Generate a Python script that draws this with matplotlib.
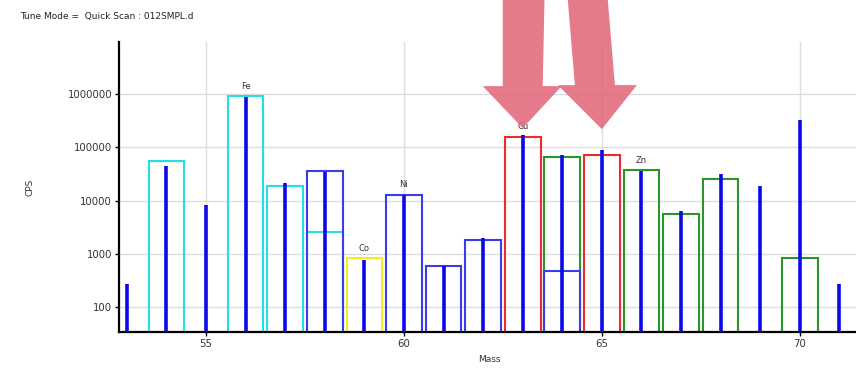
import matplotlib.pyplot as plt
import numpy as np
from matplotlib.patches import Polygon
from matplotlib.transforms import IdentityTransform

# stick spectrum (measured CPS per mass)
masses = list(range(53, 72))
cps = [270, 45000, 8400, 900000, 21000, 35000, 770, 13000, 600, 2000,
       170000, 71000, 88000, 36000, 6500, 32000, 19000, 320000, 270]

# outlined boxes (expected isotope pattern), drawn in this order
box_mass = [54, 56, 57, 58, 58, 59, 60, 61, 62, 63, 64, 64, 65, 66, 67, 68, 70]
box_top = [56000, 920000, 19000, 2600, 36000, 830, 13000, 600, 1800,
           160000, 65000, 480, 73000, 38000, 5700, 25000, 830]
box_color = ['#22e0e6', '#22e0e6', '#22e0e6', '#22e0e6', '#3a3aef', '#f2ee1e',
             '#3a3aef', '#3a3aef', '#3a3aef', '#ee2a2a', '#2a962a', '#3a3aef',
             '#ee2a2a', '#2a962a', '#2a962a', '#2a962a', '#2a962a']

# element labels
label_mass = [56, 59, 60, 63, 66]
label_text = ['Fe', 'Co', 'Ni', 'Cu', 'Zn']
label_top = [920000, 830, 13000, 160000, 38000]

arrow_tips = [(63, 230000), (65, 220000)]

fig = plt.figure(figsize=(8.56, 3.69), dpi=100)
ax = fig.add_axes([0.139, 0.1, 0.861, 0.786])
ax.set_yscale('log')
ax.set_xlim(52.8, 71.42)
ax.set_ylim(34, 9.5e6)

ax.grid(True, color='#dddddd', lw=1.0)
ax.set_axisbelow(True)
ax.set_xticks([55, 60, 65, 70])
ax.set_yticks([100, 1000, 10000, 100000, 1000000])
ax.set_yticklabels(['100', '1000', '10000', '100000', '1000000'])
ax.minorticks_off()
ax.tick_params(labelsize=7.3, length=3, width=1, colors='black', pad=2)
for lab in ax.get_xticklabels() + ax.get_yticklabels():
    lab.set_color('#333333')

for s in ['top', 'right']:
    ax.spines[s].set_visible(False)
for s in ['left', 'bottom']:
    ax.spines[s].set_linewidth(1.6)

for m, t, c in zip(box_mass, box_top, box_color):
    ax.bar(m, t - 1, bottom=1, width=0.9, fill=False, edgecolor=c, lw=1.5, zorder=2)

ax.vlines(masses, 1, cps, color='#0a0ae8', lw=2.6, zorder=3)

for m, t, lab in zip(label_mass, label_text, label_top):
    ax.text(m, lab * 1.25, t, ha='center', va='bottom', fontsize=6, color='#333333')

ax.set_xlabel('Mass', fontsize=6.5, labelpad=4, x=0.503, color='#333333')
ax.set_ylabel('CPS', fontsize=6.5, labelpad=24, color='#333333')
fig.text(0.023, 0.955, 'Tune Mode =  Quick Scan : 012SMPL.d', fontsize=6.5,
         va='center', color='#222222')

# pink arrows, offsets in pixels from tip (x right, y down)
shapes = [
    [(-20, -140), (22, -140), (20, -42), (39, -42), (0, 0), (-40, -42), (-20, -42)],
    [(-35, -140), (5, -140), (13, -44), (35, -44), (0, 0), (-44, -44), (-27, -44)],
]
fig.canvas.draw()
for (m, v), off in zip(arrow_tips, shapes):
    tx, ty = ax.transData.transform((m, v))
    pts = [(tx + dx, ty - dy) for dx, dy in off]
    fig.patches.append(Polygon(pts, closed=True, transform=IdentityTransform(),
                               facecolor='#e16476', edgecolor='none', alpha=0.85,
                               zorder=10, figure=fig))

fig.savefig('out.png', dpi=100)
